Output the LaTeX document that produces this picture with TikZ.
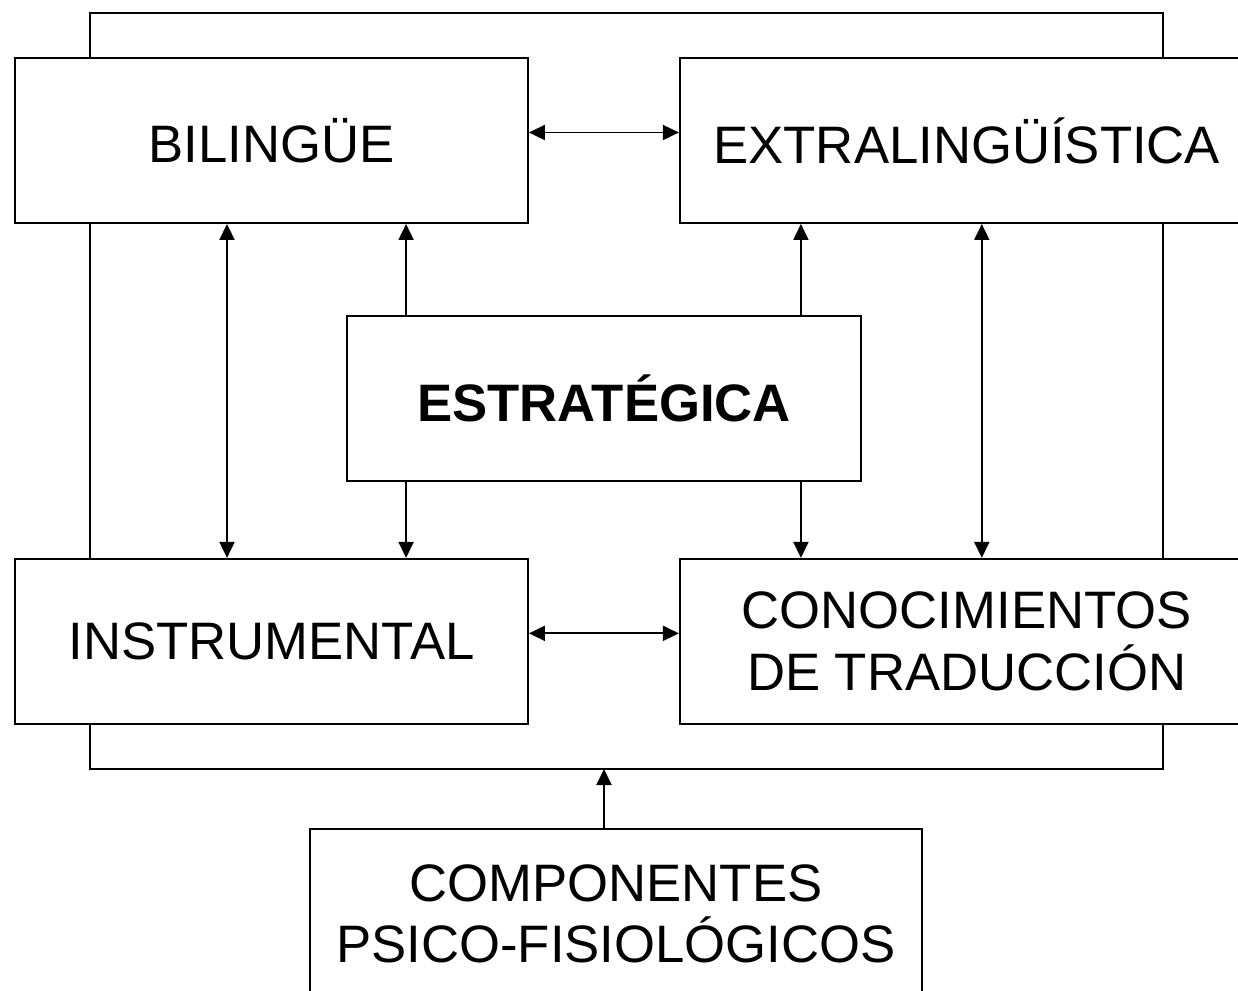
\documentclass[tikz,border=0pt]{standalone}
\usepackage{fontspec}
\setmainfont{Liberation Sans}
\usetikzlibrary{arrows.meta, positioning}

\begin{document}
\begin{tikzpicture}[
  x=0.02cm, y=-0.02cm,
  node distance=3.0cm,
  % boxes for the sub-competences
  subcomp/.style={draw, line width=1.1pt, minimum width=#1, minimum height=3.3cm,
                  align=center, inner sep=0pt, font=\fontsize{30}{35}\selectfont},
  % arrows
  arr/.style={-{Triangle[length=3.2mm, width=3mm]}, line width=1.1pt},
  dblarr/.style={{Triangle[length=3.2mm, width=3mm]}-{Triangle[length=3.2mm, width=3mm]}, line width=1.1pt},
  outer/.style={line width=1.1pt},
]
\useasboundingbox (0,0) rectangle (1238,991);
\clip (0,0) rectangle (1238,991);

% ── top row ───────────────────────────────────────
\node[subcomp=10.26cm] (bil) at (271.5,140.5) {BILINGÜE};
\node[subcomp=11.48cm, right=of bil] (extra) {EXTRALINGÜÍSTICA};

% ── centre ────────────────────────────────────────
\node[subcomp=10.28cm, font=\fontsize{30}{35}\selectfont\bfseries] (estrat) at (604,398.5) {ESTRATÉGICA};

% ── bottom row ────────────────────────────────────
\node[subcomp=10.26cm, below=6.68cm of bil] (instr) {INSTRUMENTAL};
\node[subcomp=11.48cm, right=of instr] (conoc) {CONOCIMIENTOS\\DE TRADUCCIÓN};

% ── psycho-physiological components ───────────────
\node[subcomp=12.24cm, minimum height=3.4cm] (psico) at (616,914) {COMPONENTES\\PSICO-FISIOLÓGICOS};

% ── outer frame ───────────────────────────────────
\coordinate (frametop) at (90,13);
\coordinate (framebot) at (1163,769);
\draw[outer] (bil.north -| frametop) |- (framebot |- frametop) -- (extra.north -| framebot);
\draw[outer] (bil.south -| frametop) -- (instr.north -| frametop);
\draw[outer] (extra.south -| framebot) -- (conoc.north -| framebot);
\draw[outer] (instr.south -| frametop) |- (framebot) -- (conoc.south -| framebot);
\draw[arr] ([xshift=-0.24cm]psico.north) -- ([xshift=-0.24cm]psico.north |- framebot);

% ── arrows between boxes ──────────────────────────
\draw[dblarr] ([yshift=0.16cm]bil.east) -- ([yshift=0.16cm]extra.west);
\draw[dblarr] ([yshift=0.16cm]instr.east) -- ([yshift=0.16cm]conoc.west);
\draw[dblarr] ([xshift=-0.89cm]bil.south) -- ([xshift=-0.89cm]instr.north);
\draw[dblarr] ([xshift=0.3cm]extra.south) -- ([xshift=0.3cm]conoc.north);
\draw[arr] ([xshift=1.2cm]estrat.north west) -- ([xshift=1.2cm]estrat.north west |- bil.south);
\draw[arr] ([xshift=-1.22cm]estrat.north east) -- ([xshift=-1.22cm]estrat.north east |- extra.south);
\draw[arr] ([xshift=1.2cm]estrat.south west) -- ([xshift=1.2cm]estrat.south west |- instr.north);
\draw[arr] ([xshift=-1.22cm]estrat.south east) -- ([xshift=-1.22cm]estrat.south east |- conoc.north);

\end{tikzpicture}
\end{document}
